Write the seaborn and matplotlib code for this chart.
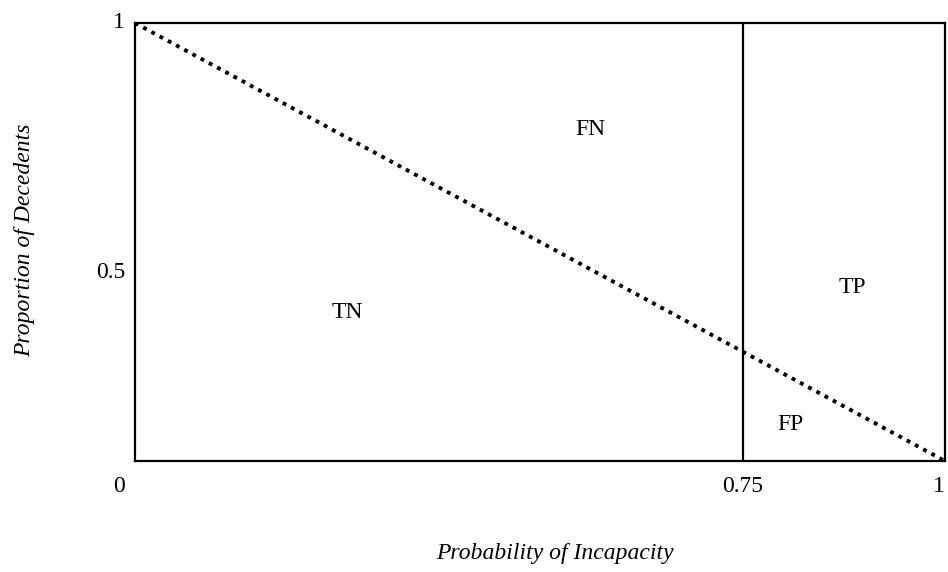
"""
Decision regions chart: probability of incapacity vs proportion of decedents.
Writes: out.png
"""
import matplotlib.pyplot as plt
import pandas as pd
import seaborn as sns

# diagonal (dotted) line
DIAG_X = [0.0, 1.0]
DIAG_Y = [1.0, 0.0]
THRESHOLD = 0.75

REGION_LABELS = ["TN", "FN", "TP", "FP"]
REGION_X = [0.262, 0.562, 0.886, 0.809]
REGION_Y = [0.340, 0.756, 0.395, 0.084]

XTICK_LABELS = ["0.75", "1"]
XTICK_POS = [0.75, 0.993]
YTICK_LABELS = ["1", "0.5"]
YTICK_POS = [1.0, 0.43]

FONT = "Liberation Serif"
FS = 17


def main():
    sns.set_style("white")
    plt.rcParams["font.family"] = [FONT, "DejaVu Serif"]
    plt.rcParams["text.color"] = "black"

    fig = plt.figure(figsize=(9.48, 5.72), dpi=100)
    ax = fig.add_axes([135 / 948, 1 - 461 / 572, 810 / 948, 438 / 572])

    df = pd.DataFrame({"x": DIAG_X, "y": DIAG_Y})
    sns.lineplot(data=df, x="x", y="y", ax=ax, color="black",
                 linestyle=(0, (1, 1.4)), linewidth=2.8)
    ax.axvline(THRESHOLD, color="black", linewidth=1.6)

    ax.set_xlim(0, 1)
    ax.set_ylim(0, 1)
    ax.set_xticks([])
    ax.set_yticks([])
    ax.set_xlabel("")
    ax.set_ylabel("")
    for sp in ax.spines.values():
        sp.set_visible(True)
        sp.set_color("black")
        sp.set_linewidth(1.6)

    for lab, x, y in zip(REGION_LABELS, REGION_X, REGION_Y):
        ax.text(x, y, lab, fontsize=FS, ha="center", va="center",
                color="black")

    # tick labels
    ax.text(-0.02, -0.035, "0", fontsize=FS, ha="center", va="top",
            clip_on=False, color="black")
    for lab, x in zip(XTICK_LABELS, XTICK_POS):
        ax.text(x, -0.035, lab, fontsize=FS, ha="center", va="top",
                clip_on=False, color="black")
    for lab, y in zip(YTICK_LABELS, YTICK_POS):
        ax.text(-0.012, y, lab, fontsize=FS, ha="right", va="center",
                clip_on=False, color="black")

    fig.text(555 / 948, 1 - 553 / 572, "Probability of Incapacity",
             fontsize=FS, style="italic", ha="center", va="center",
             color="black")
    fig.text(25 / 948, 1 - 240 / 572, "Proportion of Decedents",
             fontsize=FS, style="italic", rotation=90,
             ha="center", va="center", color="black")

    fig.savefig("out.png", dpi=100)
    plt.close(fig)


if __name__ == "__main__":
    main()
